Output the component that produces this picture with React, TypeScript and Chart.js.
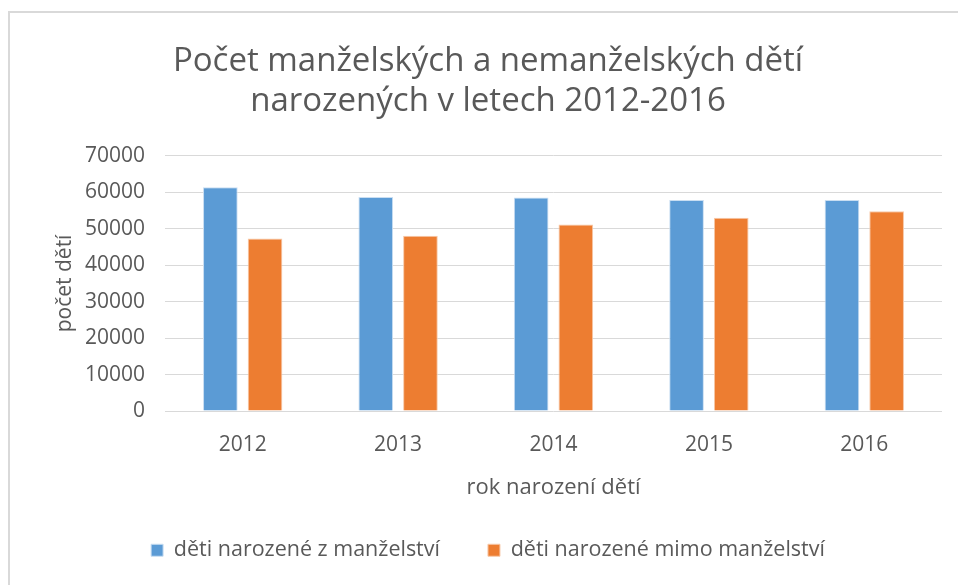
import React, { useEffect, useRef } from "react";
import { Chart, registerables } from "chart.js";

Chart.register(...registerables);

const years = ["2012", "2013", "2014", "2015", "2016"];
const marriedBirths = [61400, 58700, 58600, 57900, 57900];
const unmarriedBirths = [47300, 48100, 51200, 53000, 54800];
const seriesLabels = ["děti narozené z manželství", "děti narozené mimo manželství"];
const titleLines = ["Počet manželských a nemanželských dětí", "narozených v letech 2012-2016"];
const xTitle = "rok narození dětí";
const yTitle = "počet dětí";

const FONT = "'Open Sans', sans-serif";
const TEXT = "#595959";
const GRID = "#d9d9d9";

const framePlugin = {
  id: "frame",
  beforeDraw(chart: any) {
    const ctx = chart.ctx;
    ctx.save();
    ctx.fillStyle = "#ffffff";
    ctx.fillRect(0, 0, chart.width, chart.height);
    ctx.strokeStyle = "#d9d9d9";
    ctx.lineWidth = 2;
    ctx.beginPath();
    ctx.moveTo(9, chart.height);
    ctx.lineTo(9, 12);
    ctx.lineTo(chart.width, 12);
    ctx.stroke();
    ctx.restore();
  },
};

export default function App() {
  const ref = useRef<HTMLCanvasElement | null>(null);
  useEffect(() => {
    if (!ref.current) return;
    const chart = new Chart(ref.current, {
      type: "bar",
      data: {
        labels: years,
        datasets: [
          {
            label: seriesLabels[0],
            data: marriedBirths,
            backgroundColor: "#5b9bd5",
            borderColor: "#c9def2",
            borderWidth: 1,
            categoryPercentage: 0.575,
            barPercentage: 0.776,
          },
          {
            label: seriesLabels[1],
            data: unmarriedBirths,
            backgroundColor: "#ed7d31",
            borderColor: "#f7c9a9",
            borderWidth: 1,
            categoryPercentage: 0.575,
            barPercentage: 0.776,
          },
        ],
      },
      options: {
        animation: false,
        responsive: false,
        layout: { padding: { top: 0, right: 16, bottom: 14, left: 34 } },
        plugins: {
          title: {
            display: true,
            text: titleLines,
            color: TEXT,
            font: { family: FONT, size: 33, weight: "normal", lineHeight: 1.21 },
            padding: { top: 42, bottom: 34 },
          },
          legend: {
            position: "bottom",
            labels: {
              color: TEXT,
              font: { family: FONT, size: 21.5 },
              boxWidth: 12,
              boxHeight: 12,
              padding: 48,
            },
          },
          tooltip: { enabled: false },
        },
        scales: {
          x: {
            grid: { display: false, drawTicks: false },
            border: { display: false },
            ticks: { color: TEXT, font: { family: FONT, size: 21 }, padding: 21 },
            title: {
              display: true,
              text: xTitle,
              color: TEXT,
              font: { family: FONT, size: 22 },
              padding: { top: 0, bottom: -9 },
            },
            afterFit(scale: any) {
              scale.height = 80.5;
            },
          },
          y: {
            min: 0,
            max: 70000,
            ticks: {
              stepSize: 10000,
              color: TEXT,
              font: { family: FONT, size: 21 },
              padding: 20,
              callback: (v: any) => String(v),
            },
            grid: { color: GRID, lineWidth: 1, drawTicks: false },
            border: { display: false },
            title: {
              display: true,
              text: yTitle,
              color: TEXT,
              font: { family: FONT, size: 21 },
              padding: { top: 18, bottom: 0 },
            },
            afterFit(scale: any) {
              scale.width = 131;
            },
          },
        },
      },
      plugins: [framePlugin],
    });
    return () => chart.destroy();
  }, []);
  return (
    <div style={{ position: "absolute", left: 0, top: 0, width: 958, height: 585 }}>
      <canvas ref={ref} width={958} height={585} style={{ display: "block" }} />
    </div>
  );
}
